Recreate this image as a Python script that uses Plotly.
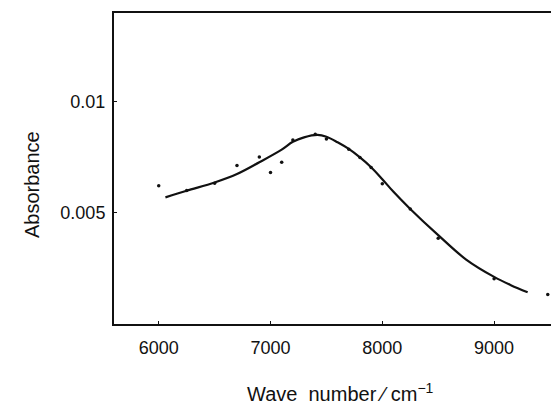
import plotly.graph_objects as go

# Measured data points
wave_pts = [6000, 6250, 6500, 6700, 6900, 7000, 7100, 7200, 7400, 7500, 7700, 7800, 7900, 8000, 8250, 8500, 9000, 9480]
abs_pts = [0.00622, 0.00601, 0.00634, 0.00713, 0.00752, 0.00682, 0.00728, 0.00828, 0.00854, 0.00833,
           0.00787, 0.00749, 0.00704, 0.00631, 0.00518, 0.00386, 0.00204, 0.00133]

# Fitted curve
wave_fit = [6060, 6250, 6500, 6700, 6900, 7100, 7200, 7300, 7420, 7500, 7600, 7700, 7800, 7900,
            8000, 8100, 8250, 8500, 8750, 9000, 9150, 9300]
abs_fit = [0.00570, 0.00600, 0.00637, 0.00675, 0.00728, 0.00785, 0.00820, 0.00840, 0.00851, 0.00843,
           0.00818, 0.00788, 0.00750, 0.00706, 0.00652, 0.00595, 0.00518, 0.00400, 0.00290, 0.00212,
           0.00175, 0.00143]

x_ticks = [6000, 7000, 8000, 9000]
y_ticks = [0.005, 0.01]
y_ticktext = ["0.005", "0.01"]

ink = "#111111"
font = "Liberation Sans, Arial, sans-serif"

W, H = 551, 404
ML, MR, MT, MB = 114, 0, 13, 80
pw = W - ML - MR
ph = H - MT - MB


def px_to_paper(x, y):
    return (x - ML) / pw, (H - MB - y) / ph


fig = go.Figure()
fig.add_trace(go.Scatter(x=wave_fit, y=abs_fit, mode="lines",
                         line=dict(color=ink, width=2.2, shape="spline", smoothing=1.0),
                         showlegend=False, hoverinfo="skip"))
fig.add_trace(go.Scatter(x=wave_pts, y=abs_pts, mode="markers",
                         marker=dict(color=ink, size=3.5),
                         showlegend=False))

ax_y, ay_y = px_to_paper(19, 185)
ax_x, ay_x = px_to_paper(340, 407)

fig.update_layout(
    width=W, height=H,
    margin=dict(l=ML, r=MR, t=MT, b=MB, autoexpand=False),
    paper_bgcolor="white", plot_bgcolor="white",
    font=dict(family=font, size=18, color=ink),
    xaxis=dict(range=[5600, 9509], tickvals=x_ticks, ticks="inside", ticklen=3,
               tickcolor=ink, showline=True, linecolor=ink, linewidth=2, mirror=True,
               showgrid=False, zeroline=False, ticklabelstandoff=6,
               tickfont=dict(family=font, size=18, color=ink)),
    yaxis=dict(range=[0, 0.014], tickvals=y_ticks, ticktext=y_ticktext, ticks="inside",
               ticklen=3, tickcolor=ink, showline=True, linecolor=ink, linewidth=2,
               showgrid=False, zeroline=False, ticklabelstandoff=3,
               tickfont=dict(family=font, size=18, color=ink)),
    annotations=[
        dict(text="Absorbance", textangle=-90, x=ax_y, y=ay_y, xref="paper", yref="paper",
             showarrow=False, font=dict(family=font, size=20, color=ink)),
        dict(text="Wave  number ⁄ cm<sup>−1</sup>", x=ax_x, y=ay_x, xref="paper", yref="paper",
             yanchor="bottom", showarrow=False, font=dict(family=font, size=20, color=ink)),
    ],
)

fig.write_html("out.html", config={"displayModeBar": False},
               post_script="document.body.style.margin='0';document.body.style.overflow='hidden';")
